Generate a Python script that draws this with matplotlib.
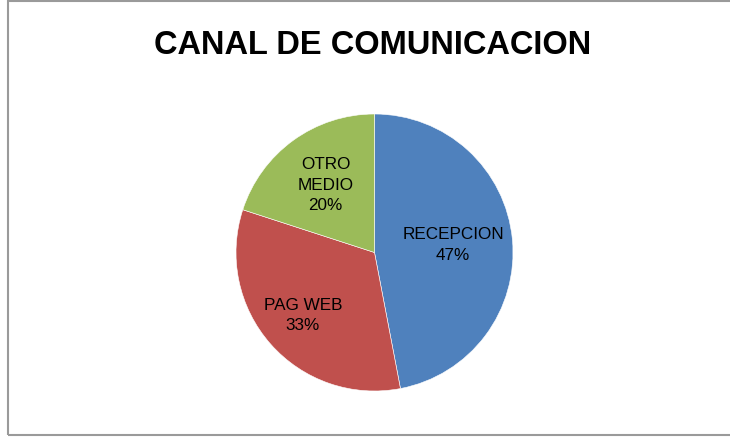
import matplotlib.pyplot as plt
import matplotlib.patches as mpatches
import numpy as np

categories = ['RECEPCION', 'PAG WEB', 'OTRO\nMEDIO']
values = [47, 33, 20]
colors = ['#4F81BD', '#C0504D', '#9BBB59']
label_dist = [0.57, 0.69, 0.60]

W, H = 730, 438
fig = plt.figure(figsize=(W / 100, H / 100), dpi=100)
fig.patch.set_facecolor('white')

# outer chart frame (right edge is cut off in the reference)
frame = mpatches.Rectangle((8 / W, 3 / H), 1.0, (437 - 3) / H, transform=fig.transFigure,
                           fill=False, edgecolor='#9a9a9a', linewidth=1.5)
fig.patches.append(frame)

fig.text(373 / W, 1 - 46 / H, 'CANAL DE COMUNICACION', ha='center', va='center',
         fontsize=23.5, fontweight='bold', family=['Liberation Sans', 'DejaVu Sans'])

# pie axes: centre (374.5, 252.5) px, radius 138.5 px
cx, cy, r = 374.5, 252.5, 138.5
ax = fig.add_axes([(cx - r) / W, (H - cy - r) / H, 2 * r / W, 2 * r / H])
wedges, texts = ax.pie(values, colors=colors, startangle=90, counterclock=False,
                       wedgeprops=dict(edgecolor='white', linewidth=0.4))
ax.set_xlim(-1, 1)
ax.set_ylim(-1, 1)
ax.set_aspect('equal')
ax.axis('off')

total = sum(values)
for w, cat, v, d in zip(wedges, categories, values, label_dist):
    ang = np.deg2rad((w.theta1 + w.theta2) / 2)
    ax.text(d * np.cos(ang), d * np.sin(ang), '%s\n%d%%' % (cat, round(100 * v / total)),
            ha='center', va='center', fontsize=12.3, linespacing=1.45,
            family=['Liberation Sans', 'DejaVu Sans'])

plt.savefig('out.png', dpi=100)
